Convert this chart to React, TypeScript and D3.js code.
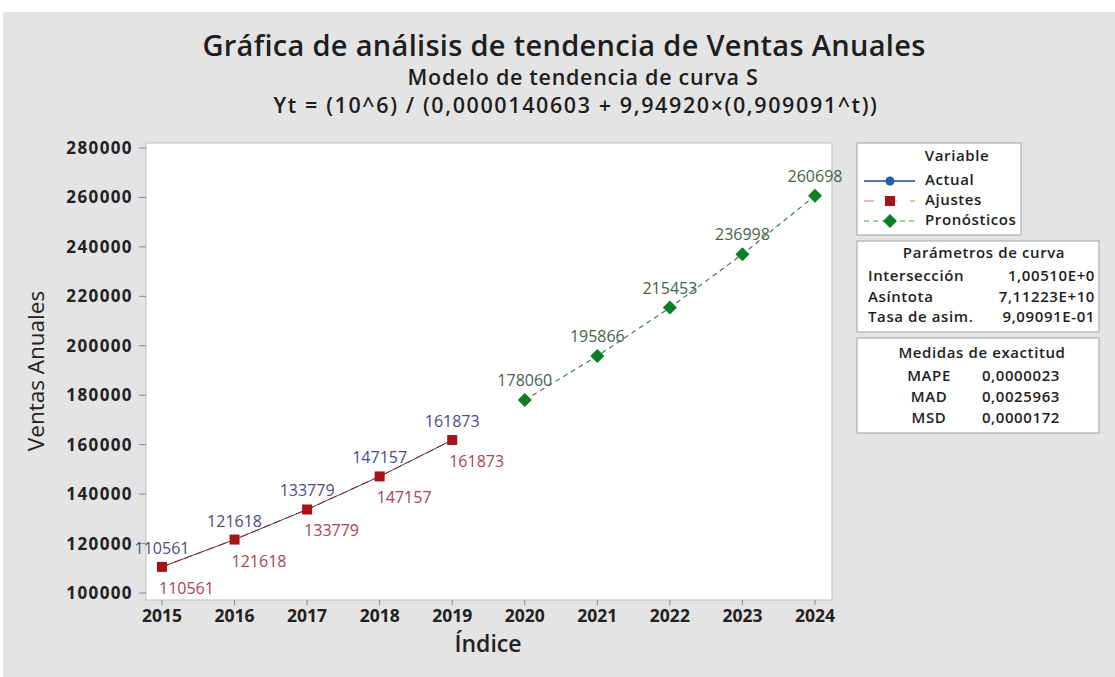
import React from "react";
import * as d3 from "d3";

// values
const histYears = [2015, 2016, 2017, 2018, 2019];
const actual = [110561, 121618, 133779, 147157, 161873];
const fits = [110561, 121618, 133779, 147157, 161873];
const foreYears = [2020, 2021, 2022, 2023, 2024];
const forecasts = [178060, 195866, 215453, 236998, 260698];
const xTicks = [2015, 2016, 2017, 2018, 2019, 2020, 2021, 2022, 2023, 2024];
const yTicks = [100000, 120000, 140000, 160000, 180000, 200000, 220000, 240000, 260000, 280000];

const curveParams = [
  ["Intersección", "1,00510E+0"],
  ["Asíntota", "7,11223E+10"],
  ["Tasa de asim.", "9,09091E-01"],
];
const accuracy = [
  ["MAPE", "0,0000023"],
  ["MAD", "0,0025963"],
  ["MSD", "0,0000172"],
];

const FONT = "'Open Sans', 'Noto Sans', sans-serif";
const BLUE = "#1f4e9c";
const RED = "#a31515";
const GREEN = "#0b7d24";
const INK = "#1e1e1e";

const App = () => {
  const plot = { left: 146, right: 832, top: 143, bottom: 600 };
  const x = d3.scaleLinear().domain([2015, 2024]).range([162, 815]);
  const y = d3.scaleLinear().domain([100000, 280000]).range([593, 148]);

  const line = d3
    .line<[number, number]>()
    .x((d) => x(d[0]))
    .y((d) => y(d[1]));

  const actualPts = histYears.map((yr, i) => [yr, actual[i]] as [number, number]);
  const fitPts = histYears.map((yr, i) => [yr, fits[i]] as [number, number]);
  const forePts = foreYears.map((yr, i) => [yr, forecasts[i]] as [number, number]);

  const diamond = (cx: number, cy: number, r: number) =>
    `M${cx},${cy - r}L${cx + r},${cy}L${cx},${cy + r}L${cx - r},${cy}Z`;

  const legendX = 857;
  const lf = 15;
  const ls = 0.6;

  return (
    <svg
      width={1115}
      height={677}
      style={{ position: "fixed", left: 0, top: 0, fontFamily: FONT }}
    >
      <rect x={0} y={0} width={1115} height={677} fill="#ffffff" />
      <rect x={3} y={12} width={1112} height={665} fill="#e4e4e4" />

      {/* titles */}
      <text x={564} y={56} textAnchor="middle" fontSize={29} fontWeight={600} letterSpacing={0.3} fill={INK}>
        Gráfica de análisis de tendencia de Ventas Anuales
      </text>
      <text x={583} y={85} textAnchor="middle" fontSize={21.5} fontWeight={600} letterSpacing={0.7} fill={INK}>
        Modelo de tendencia de curva S
      </text>
      <text
        x={576}
        y={113}
        textAnchor="middle"
        fontSize={21.5}
        fontWeight={600}
        letterSpacing={1.6}
        fill={INK}
      >
        Yt = (10^6) / (0,0000140603 + 9,94920×(0,909091^t))
      </text>

      {/* plot area */}
      <rect
        x={plot.left}
        y={plot.top}
        width={plot.right - plot.left}
        height={plot.bottom - plot.top}
        fill="#ffffff"
        stroke="#bdbdbd"
      />

      {/* y axis */}
      {yTicks.map((t) => (
        <g key={t}>
          <line x1={139} x2={plot.left} y1={y(t)} y2={y(t)} stroke="#8a8a8a" />
          <text
            x={133}
            y={y(t) + 6}
            textAnchor="end"
            fontSize={17}
            fontWeight={700}
            letterSpacing={1.4}
            fill="#222"
          >
            {t}
          </text>
        </g>
      ))}
      <text
        transform={`translate(44,371) rotate(-90)`}
        textAnchor="middle"
        fontSize={22.5}
        fontWeight={500}
        fill="#222"
      >
        Ventas Anuales
      </text>

      {/* x axis */}
      {xTicks.map((t) => (
        <g key={t}>
          <line x1={x(t)} x2={x(t)} y1={plot.bottom} y2={plot.bottom + 5} stroke="#8a8a8a" />
          <text x={x(t)} y={622} textAnchor="middle" fontSize={17.5} fontWeight={700} fill="#222">
            {t}
          </text>
        </g>
      ))}
      <text x={488} y={652} textAnchor="middle" fontSize={23} fontWeight={600} fill="#222">
        Índice
      </text>

      {/* series */}
      <path d={line(actualPts) || ""} fill="none" stroke={BLUE} strokeWidth={1} />
      <path d={line(fitPts) || ""} fill="none" stroke={RED} strokeWidth={1} strokeDasharray="8 4" />
      <path
        d={line(forePts) || ""}
        fill="none"
        stroke="#4d7556"
        strokeWidth={1.2}
        strokeDasharray="5 4"
      />

      {actualPts.map((d) => (
        <circle key={"a" + d[0]} cx={x(d[0])} cy={y(d[1])} r={4} fill={BLUE} />
      ))}
      {fitPts.map((d) => (
        <rect key={"f" + d[0]} x={x(d[0]) - 5} y={y(d[1]) - 5} width={10} height={10} fill={RED} />
      ))}
      {forePts.map((d) => (
        <path key={"p" + d[0]} d={diamond(x(d[0]), y(d[1]), 7)} fill={GREEN} />
      ))}

      {/* data labels */}
      {actualPts.map((d) => (
        <text
          key={"la" + d[0]}
          x={x(d[0])}
          y={y(d[1]) - 13}
          textAnchor="middle"
          fontSize={16}
          fill="#4c4a8c"
        >
          {d[1]}
        </text>
      ))}
      {fitPts.map((d) => (
        <text key={"lf" + d[0]} x={x(d[0]) - 3} y={y(d[1]) + 27} fontSize={16} fill="#a84452">
          {d[1]}
        </text>
      ))}
      {forePts.map((d) => (
        <text
          key={"lp" + d[0]}
          x={x(d[0])}
          y={y(d[1]) - 14}
          textAnchor="middle"
          fontSize={16}
          fill="#46624c"
        >
          {d[1]}
        </text>
      ))}

      {/* legend */}
      <rect x={legendX} y={143} width={164} height={92} fill="#fff" stroke="#a0a0a0" />
      <text x={957} y={161} textAnchor="middle" fontSize={lf} fontWeight={600} letterSpacing={ls} fill={INK}>
        Variable
      </text>
      <line x1={864} x2={915} y1={181} y2={181} stroke={BLUE} strokeWidth={1.5} />
      <circle cx={890} cy={181} r={4.5} fill="#1f5fb0" />
      <text x={925} y={185} fontSize={lf} fontWeight={600} letterSpacing={ls} fill={INK}>Actual</text>
      <line x1={864} x2={915} y1={201} y2={201} stroke="#d07a7a" strokeWidth={1} strokeDasharray="10 13" />
      <rect x={885} y={196} width={10} height={10} fill={RED} />
      <text x={925} y={205} fontSize={lf} fontWeight={600} letterSpacing={ls} fill={INK}>Ajustes</text>
      <line x1={864} x2={915} y1={221} y2={221} stroke="#4f9a5e" strokeWidth={1.2} strokeDasharray="5 4" />
      <path d={diamond(890, 221, 7)} fill={GREEN} />
      <text x={925} y={225} fontSize={lf} fontWeight={600} letterSpacing={ls} fill={INK}>Pronósticos</text>

      <rect x={legendX} y={241} width={242} height={91} fill="#fff" stroke="#a0a0a0" />
      <text x={984} y={258} textAnchor="middle" fontSize={lf} fontWeight={600} letterSpacing={ls} fill={INK}>
        Parámetros de curva
      </text>
      {curveParams.map((r, i) => (
        <g key={r[0]}>
          <text x={868} y={281 + i * 20.5} fontSize={lf} fontWeight={600} letterSpacing={ls} fill={INK}>
            {r[0]}
          </text>
          <text
            x={1095}
            y={281 + i * 20.5}
            textAnchor="end"
            fontSize={lf}
            fontWeight={600}
            letterSpacing={ls}
            fill={INK}
          >
            {r[1]}
          </text>
        </g>
      ))}

      <rect x={legendX} y={338} width={242} height={95} fill="#fff" stroke="#a0a0a0" />
      <text x={982} y={358} textAnchor="middle" fontSize={lf} fontWeight={600} letterSpacing={ls} fill={INK}>
        Medidas de exactitud
      </text>
      {accuracy.map((r, i) => (
        <g key={r[0]}>
          <text
            x={929}
            y={381 + i * 21}
            textAnchor="middle"
            fontSize={lf}
            fontWeight={600}
            letterSpacing={ls}
            fill={INK}
          >
            {r[0]}
          </text>
          <text
            x={1060}
            y={381 + i * 21}
            textAnchor="end"
            fontSize={lf}
            fontWeight={600}
            letterSpacing={ls}
            fill={INK}
          >
            {r[1]}
          </text>
        </g>
      ))}
    </svg>
  );
};

export default App;
